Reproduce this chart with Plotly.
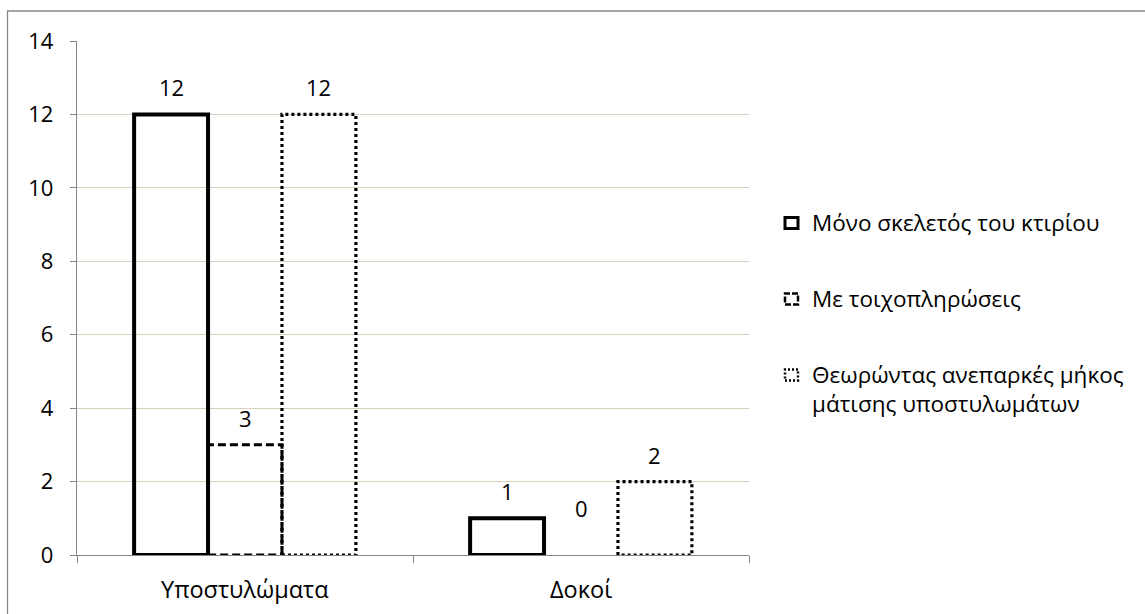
import plotly.graph_objects as go

# Data
categories = ["Υποστυλώματα", "Δοκοί"]
series_names = [
    "Μόνο σκελετός του κτιρίου",
    "Με τοιχοπληρώσεις",
    "Θεωρώντας ανεπαρκές μήκος<br>μάτισης υποστυλωμάτων",
]
series_values = [
    [12, 1],
    [3, 0],
    [12, 2],
]
y_ticks = [0, 2, 4, 6, 8, 10, 12, 14]

# Styling per series (outline only, white fill)
line_styles = [
    dict(width=4, dash="solid"),
    dict(width=3, dash="8px,4px"),
    dict(width=3.2, dash="3px,3px"),
]
icon_styles = [
    dict(width=3, dash="solid"),
    dict(width=2.5, dash="6px,2px"),
    dict(width=2.5, dash="2px,2px"),
]

FONT = "'Open Sans', sans-serif"
TICK_SIZE = 22
LEGEND_SIZE = 22.5
CAT_SIZE = 23.5

# Plot-area geometry in pixels (used to place the legend in paper units)
L, R, T, B = 77, 749, 41, 555
W, H = 1145, 614


def px_x(px):
    return (px - L) / (R - L)


def px_y(py):
    return (B - py) / (B - T)


bar_w = 0.22
offsets = [-bar_w, 0.0, bar_w]

fig = go.Figure()

for s, (name, vals) in enumerate(zip(series_names, series_values)):
    xs, ys = [], []
    for ci, v in enumerate(vals):
        if v == 0:
            continue
        c = ci + offsets[s]
        x0, x1 = c - bar_w / 2, c + bar_w / 2
        xs += [x0, x0, x1, x1, x0, None]
        ys += [0, v, v, 0, 0, None]
    fig.add_trace(go.Scatter(
        x=xs, y=ys, mode="lines", name=name,
        line=dict(color="black", **line_styles[s]),
        connectgaps=False, hoverinfo="skip", showlegend=False,
    ))

# Value labels above each bar
for s, vals in enumerate(series_values):
    for ci, v in enumerate(vals):
        fig.add_annotation(
            x=ci + offsets[s], y=v, xref="x", yref="y",
            text=str(v), showarrow=False,
            yshift=47 if v == 0 else 27,
            font=dict(family=FONT, size=TICK_SIZE, color="black"),
        )

# Category labels
for ci, cat in enumerate(categories):
    fig.add_annotation(
        x=ci, y=0, xref="x", yref="y", text=cat, showarrow=False,
        yshift=-34, font=dict(family=FONT, size=CAT_SIZE, color="black"),
    )

# Legend: outlined square icons + text
legend_rows = [223, 299, 375]
for s, row in enumerate(legend_rows):
    fig.add_shape(
        type="rect", xref="paper", yref="paper",
        x0=px_x(785), x1=px_x(798), y0=px_y(row + 5.5), y1=px_y(row - 5.5),
        line=dict(color="black", **icon_styles[s]), fillcolor="white",
    )
    fig.add_annotation(
        x=px_x(810), y=px_y(row - 18), xref="paper", yref="paper",
        xanchor="left", yanchor="top", align="left", text=series_names[s],
        showarrow=False, font=dict(family=FONT, size=LEGEND_SIZE, color="black"),
    )

# Outer chart border
fig.add_shape(
    type="rect", xref="paper", yref="paper",
    x0=px_x(7.5), x1=px_x(1150), y0=px_y(680), y1=px_y(11),
    line=dict(color="#868686", width=1.3), fillcolor="rgba(0,0,0,0)",
    layer="below",
)

fig.update_layout(
    width=W, height=H,
    margin=dict(l=L, r=W - R, t=T, b=H - B),
    paper_bgcolor="white", plot_bgcolor="white",
    font=dict(family=FONT, size=TICK_SIZE, color="black"),
    showlegend=False,
    xaxis=dict(
        range=[-0.5, 1.5], tickvals=[-0.5, 0.5, 1.5], showticklabels=False,
        ticks="outside", ticklen=7, tickcolor="#868686",
        showline=True, linecolor="#868686", linewidth=1.3,
        showgrid=False, zeroline=False, fixedrange=True,
    ),
    yaxis=dict(
        range=[0, 14], tickvals=y_ticks, ticks="outside", ticklen=6,
        tickcolor="#868686", showline=True, linecolor="#868686", linewidth=1.3,
        showgrid=True, gridcolor="#D6D2BC", gridwidth=1.4, zeroline=False,
        tickfont=dict(family=FONT, size=TICK_SIZE, color="black"),
        ticklabelstandoff=12,
    ),
)

fig.write_html("out.html")
